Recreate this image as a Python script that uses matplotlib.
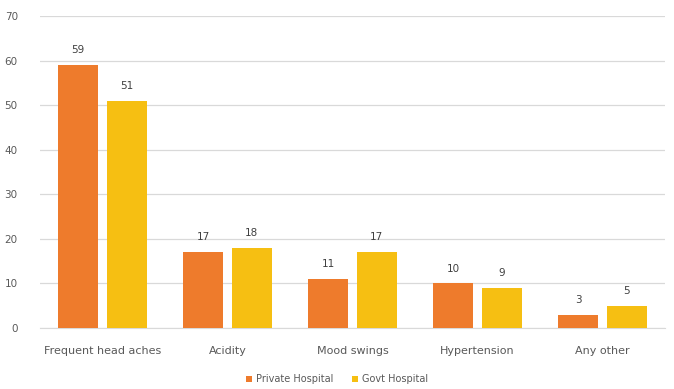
import numpy as np
import matplotlib.pyplot as plt

categories = ['Frequent head aches', 'Acidity', 'Mood swings', 'Hypertension', 'Any other']
private_hospital = [59, 17, 11, 10, 3]
govt_hospital = [51, 18, 17, 9, 5]

fig = plt.figure(figsize=(6.74, 3.89), dpi=100)
ax = fig.add_axes([40 / 674, 61 / 389, 625 / 674, 312 / 389])

x = np.arange(len(categories))
width = 0.32
offset = 0.195

bars1 = ax.bar(x - offset, private_hospital, width, color='#EE7B2C', label='Private Hospital', zorder=3)
bars2 = ax.bar(x + offset, govt_hospital, width, color='#F6BF12', label='Govt Hospital', zorder=3)

for bars in (bars1, bars2):
    for bar in bars:
        h = bar.get_height()
        ax.text(bar.get_x() + bar.get_width() / 2, h + 2.2, f'{h:g}',
                ha='center', va='bottom', fontsize=7.5, color='#404040')

ax.set_xlim(-0.5, len(categories) - 0.5)
ax.set_ylim(0, 70)
ax.set_yticks(range(0, 71, 10))
ax.set_xticks(x)
ax.set_xticklabels(categories)
ax.tick_params(axis='both', length=0, labelsize=7.5, colors='#595959')
ax.tick_params(axis='x', labelsize=8)
ax.tick_params(axis='y', pad=16)
ax.tick_params(axis='x', pad=13)
ax.yaxis.grid(True, color='#D9D9D9', linewidth=0.9, zorder=0)
for side in ('top', 'right', 'left'):
    ax.spines[side].set_visible(False)
ax.spines['bottom'].set_color('#D9D9D9')

fig.legend(loc='lower center', bbox_to_anchor=(0.5, -0.01), ncol=2, frameon=False,
           fontsize=7, labelcolor='#595959', handlelength=0.6, handleheight=0.6,
           columnspacing=2.0, handletextpad=0.4)

plt.savefig('out.png', dpi=100)
plt.close()
